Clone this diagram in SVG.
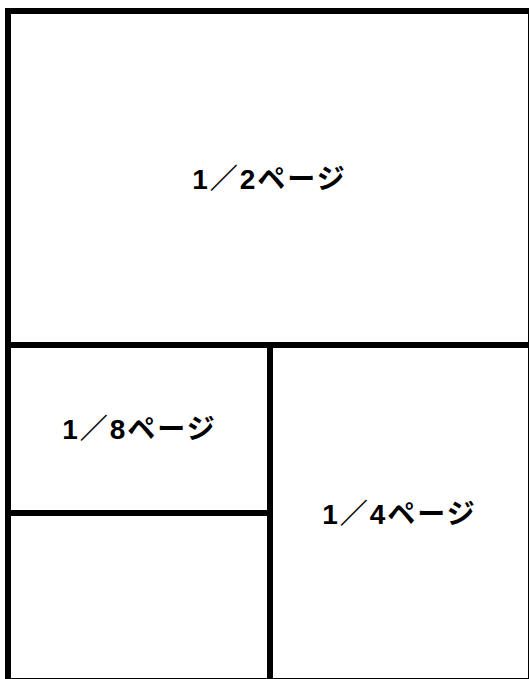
<svg xmlns="http://www.w3.org/2000/svg" width="529" height="679" viewBox="0 0 529 679">
<style>
.b{fill:none;stroke:#000;stroke-width:6}
.t{font-family:"Liberation Sans","Noto Sans CJK JP",sans-serif;font-weight:bold;font-size:28px;letter-spacing:2px;fill:#000;text-anchor:middle}
</style>
<rect width="529" height="679" fill="#fff"/>
<g id="frame"><rect class="b" x="8" y="11" width="523" height="670"/></g>
<g id="connectors">
<line class="b" x1="8" y1="345" x2="531" y2="345"/>
<line class="b" x1="270" y1="345" x2="270" y2="681"/>
<line class="b" x1="8" y1="513" x2="270" y2="513"/>
</g>
<g id="half"><text class="t" x="269.5" y="189">1／2ページ</text></g>
<g id="eighth"><text class="t" x="139.5" y="439">1／8ページ</text></g>
<g id="quarter"><text class="t" x="399.5" y="524">1／4ページ</text></g>
</svg>
